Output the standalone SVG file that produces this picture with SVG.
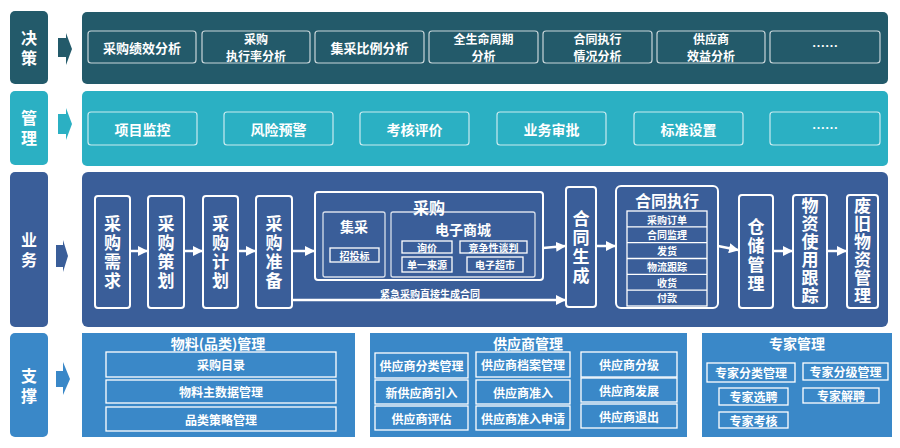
<svg xmlns="http://www.w3.org/2000/svg" width="900" height="448" viewBox="0 0 900 448">
<defs>
<style>
text{font-family:"Noto Sans CJK SC","Noto Sans",sans-serif;font-weight:bold;fill:#fff;text-anchor:middle;dominant-baseline:central}
.v{writing-mode:vertical-rl}
.r1{fill:#235a6a}
.r2{fill:#2bb0c3}
.r3{fill:#3a5e99}
.r4{fill:#3a88c8}
.ob{fill:none;stroke:#fff;stroke-opacity:.75;stroke-width:1.2}
.wb{fill:none;stroke:#fff;stroke-width:2}
.tb{fill:none;stroke:#fff;stroke-width:1.3}
.lb{font-size:16px;letter-spacing:4px}
.t13{font-size:13px}
.t2l{font-size:12px}
.t14{font-size:14px}
.t10{font-size:10px}
.t12{font-size:12px}
.v4{font-size:17px;letter-spacing:2px}
.v6{font-size:17px;letter-spacing:1px}
.t16{font-size:16px}
.con{stroke:#fff;stroke-width:2.5;fill:none}
</style>
<marker id="ah" viewBox="0 0 10 10" refX="9" refY="5" markerWidth="4" markerHeight="4" orient="auto" markerUnits="strokeWidth">
<path d="M0,0 L10,5 L0,10 Z" fill="#fff"/>
</marker>
</defs>
<rect width="900" height="448" fill="#fff"/>

<!-- Row 1 决策 -->
<g id="row-decision">
<rect class="r1" x="10" y="11" width="38" height="73" rx="5"/>
<text class="lb v" x="29" y="50">决策</text>
<path class="r1" d="M58,38 H66 V33 L72,49 L66,65 V57 H58 Z"/>
<rect class="r1" x="82" y="12" width="806" height="72" rx="5"/>
</g>
<g id="n-d1"><rect class="ob" x="88" y="31" width="108" height="32" rx="3"/><text class="t13" x="142" y="47">采购绩效分析</text></g>
<g id="n-d2"><rect class="ob" x="202" y="31" width="108" height="32" rx="3"/><text class="t2l" x="256" y="38">采购</text><text class="t2l" x="256" y="55.5">执行率分析</text></g>
<g id="n-d3"><rect class="ob" x="315" y="31" width="109" height="32" rx="3"/><text class="t13" x="369.5" y="47">集采比例分析</text></g>
<g id="n-d4"><rect class="ob" x="429" y="31" width="109" height="32" rx="3"/><text class="t2l" x="483.5" y="38">全生命周期</text><text class="t2l" x="483.5" y="55.5">分析</text></g>
<g id="n-d5"><rect class="ob" x="543" y="31" width="109" height="32" rx="3"/><text class="t2l" x="597.5" y="38">合同执行</text><text class="t2l" x="597.5" y="55.5">情况分析</text></g>
<g id="n-d6"><rect class="ob" x="657" y="31" width="108" height="32" rx="3"/><text class="t2l" x="711" y="38">供应商</text><text class="t2l" x="711" y="55.5">效益分析</text></g>
<g id="n-d7"><rect class="ob" x="770" y="31" width="110" height="32" rx="3"/><text class="t13" x="825" y="45">……</text></g>

<!-- Row 2 管理 -->
<g id="row-management">
<rect class="r2" x="10" y="91" width="38" height="74" rx="5"/>
<text class="lb v" x="29" y="130">管理</text>
<path class="r2" d="M58,114 H66 V108 L72,124 L66,140 V134 H58 Z"/>
<rect class="r2" x="82" y="91" width="806" height="75" rx="5"/>
</g>
<g id="n-m1"><rect class="ob" x="88" y="112" width="109" height="33" rx="3"/><text class="t14" x="142.5" y="128.5">项目监控</text></g>
<g id="n-m2"><rect class="ob" x="224" y="112" width="109" height="33" rx="3"/><text class="t14" x="278.5" y="128.5">风险预警</text></g>
<g id="n-m3"><rect class="ob" x="360" y="112" width="109" height="33" rx="3"/><text class="t14" x="414.5" y="128.5">考核评价</text></g>
<g id="n-m4"><rect class="ob" x="497" y="112" width="109" height="33" rx="3"/><text class="t14" x="551.5" y="128.5">业务审批</text></g>
<g id="n-m5"><rect class="ob" x="634" y="112" width="109" height="33" rx="3"/><text class="t14" x="688.5" y="128.5">标准设置</text></g>
<g id="n-m6"><rect class="ob" x="770" y="112" width="110" height="33" rx="3"/><text class="t13" x="825" y="127">……</text></g>

<!-- Row 3 业务 -->
<g id="row-business">
<rect class="r3" x="10" y="172" width="38" height="155" rx="5"/>
<text class="lb v" x="29" y="252">业务</text>
<path class="r3" d="M56,245 H63 V240 L68,256 L63,272 V267 H56 Z"/>
<rect class="r3" x="82" y="172" width="806" height="155" rx="6"/>
</g>
<g id="n-b1"><rect class="wb" x="95" y="196" width="35" height="112" rx="3"/><text class="v4 v" x="112.5" y="253.5">采购需求</text></g>
<g id="n-b2"><rect class="wb" x="148" y="196" width="36" height="112" rx="3"/><text class="v4 v" x="166" y="253.5">采购策划</text></g>
<g id="n-b3"><rect class="wb" x="203" y="196" width="35" height="112" rx="3"/><text class="v4 v" x="220.5" y="253.5">采购计划</text></g>
<g id="n-b4"><rect class="wb" x="256" y="196" width="36" height="112" rx="3"/><text class="v4 v" x="274" y="253.5">采购准备</text></g>
<g id="n-purchase">
<rect class="wb" x="315" y="192" width="228" height="88" rx="3"/>
<text class="t16" x="429" y="207">采购</text>
<rect class="tb" x="323" y="212" width="62" height="65" rx="2" stroke-opacity=".8"/>
<text class="t14" x="354" y="226">集采</text>
<rect class="tb" x="330" y="248" width="49" height="14"/>
<text class="t10" x="354.5" y="255">招投标</text>
<rect class="tb" x="391" y="212" width="144" height="65" rx="2" stroke-opacity=".8"/>
<text class="t14" x="463" y="229">电子商城</text>
<rect class="tb" x="402" y="241" width="50" height="12"/><text class="t10" x="427" y="247">询价</text>
<rect class="tb" x="460" y="241" width="67" height="12"/><text class="t10" x="493.5" y="247">竞争性谈判</text>
<rect class="tb" x="402" y="257" width="50" height="15"/><text class="t10" x="427" y="264.5">单一来源</text>
<rect class="tb" x="467" y="257" width="56" height="15"/><text class="t10" x="495" y="264.5">电子超市</text>
</g>
<g id="n-contract-gen"><rect class="wb" x="566" y="187" width="30" height="120" rx="3"/><text class="v4 v" x="581" y="248.5">合同生成</text></g>
<g id="n-contract-exec">
<rect class="wb" x="616" y="186" width="102" height="122" rx="5"/>
<text class="t16" x="667" y="200">合同执行</text>
<rect class="tb" x="627" y="211" width="80" height="95"/>
<path d="M627,226.8 H707 M627,242.7 H707 M627,258.5 H707 M627,274.3 H707 M627,290.2 H707" stroke="#fff" stroke-width="1.3"/>
<text class="t10" x="667" y="219">采购订单</text>
<text class="t10" x="667" y="234.8">合同监理</text>
<text class="t10" x="667" y="250.6">发货</text>
<text class="t10" x="667" y="266.4">物流跟踪</text>
<text class="t10" x="667" y="282.2">收货</text>
<text class="t10" x="667" y="297">付款</text>
</g>
<g id="n-warehouse"><rect class="wb" x="739" y="195" width="34" height="113" rx="3"/><text class="v4 v" x="756" y="256.5">仓储管理</text></g>
<g id="n-usage"><rect class="wb" x="793" y="195" width="34" height="113" rx="3"/><text class="v6 v" x="810" y="251.5">物资使用跟踪</text></g>
<g id="n-waste"><rect class="wb" x="847" y="195" width="31" height="113" rx="3"/><text class="v6 v" x="862.5" y="251.5">废旧物资管理</text></g>

<g id="connectors">
<line class="con" x1="130" y1="251" x2="147" y2="251" marker-end="url(#ah)"/>
<line class="con" x1="184" y1="251" x2="202" y2="251" marker-end="url(#ah)"/>
<line class="con" x1="238" y1="251" x2="255" y2="251" marker-end="url(#ah)"/>
<line class="con" x1="292" y1="251" x2="314" y2="251" marker-end="url(#ah)"/>
<line class="con" x1="543" y1="248" x2="565" y2="246" marker-end="url(#ah)"/>
<line class="con" x1="596" y1="246" x2="615" y2="246" marker-end="url(#ah)"/>
<line class="con" x1="718" y1="246" x2="738" y2="250" marker-end="url(#ah)"/>
<line class="con" x1="773" y1="251" x2="792" y2="251" marker-end="url(#ah)"/>
<line class="con" x1="827" y1="251" x2="846" y2="251" marker-end="url(#ah)"/>
<line class="con" x1="292" y1="300" x2="565" y2="300" marker-end="url(#ah)"/>
<text class="t10" x="430" y="293">紧急采购直接生成合同</text>
</g>

<!-- Row 4 支撑 -->
<g id="row-support">
<rect class="r4" x="10" y="333" width="38" height="104" rx="5"/>
<text class="lb v" x="29" y="388">支撑</text>
<path class="r4" d="M56,371 H63 V362 L70,379 L63,395 V387 H56 Z"/>
</g>
<g id="n-material">
<rect class="r4" x="82" y="333" width="273" height="104"/>
<text class="t14" x="218" y="343">物料(品类)管理</text>
<rect class="tb" x="106" y="352" width="230" height="25"/><text class="t12" x="221" y="364.5">采购目录</text>
<rect class="tb" x="106" y="380" width="230" height="23"/><text class="t12" x="221" y="391.5">物料主数据管理</text>
<rect class="tb" x="106" y="407" width="230" height="24"/><text class="t12" x="221" y="419">品类策略管理</text>
</g>
<g id="n-supplier">
<rect class="r4" x="370" y="333" width="317" height="104"/>
<text class="t14" x="528" y="343">供应商管理</text>
<rect class="tb" x="375" y="353" width="93" height="25"/><text class="t12" x="421.5" y="365.5">供应商分类管理</text>
<rect class="tb" x="375" y="380" width="93" height="24"/><text class="t12" x="421.5" y="392">新供应商引入</text>
<rect class="tb" x="375" y="406" width="93" height="24"/><text class="t12" x="421.5" y="418">供应商评估</text>
<rect class="tb" x="476" y="352" width="94" height="25"/><text class="t12" x="523" y="364.5">供应商档案管理</text>
<rect class="tb" x="476" y="380" width="94" height="24"/><text class="t12" x="523" y="392">供应商准入</text>
<rect class="tb" x="476" y="406" width="94" height="24"/><text class="t12" x="523" y="418">供应商准入申请</text>
<rect class="tb" x="581" y="352" width="96" height="25"/><text class="t12" x="629" y="364.5">供应商分级</text>
<rect class="tb" x="581" y="378" width="96" height="24"/><text class="t12" x="629" y="390">供应商发展</text>
<rect class="tb" x="581" y="404" width="96" height="24"/><text class="t12" x="629" y="416">供应商退出</text>
</g>
<g id="n-expert">
<rect class="r4" x="702" y="333" width="190" height="104"/>
<text class="t14" x="797" y="343">专家管理</text>
<rect class="tb" x="707" y="363" width="88" height="19"/><text class="t12" x="751" y="372.5">专家分类管理</text>
<rect class="tb" x="803" y="363" width="85" height="17"/><text class="t12" x="845.5" y="371.5">专家分级管理</text>
<rect class="tb" x="719" y="388" width="69" height="17"/><text class="t12" x="753.5" y="396.5">专家选聘</text>
<rect class="tb" x="803" y="388" width="76" height="15"/><text class="t12" x="841" y="395.5">专家解聘</text>
<rect class="tb" x="719" y="412" width="69" height="16"/><text class="t12" x="753.5" y="420">专家考核</text>
</g>
</svg>
